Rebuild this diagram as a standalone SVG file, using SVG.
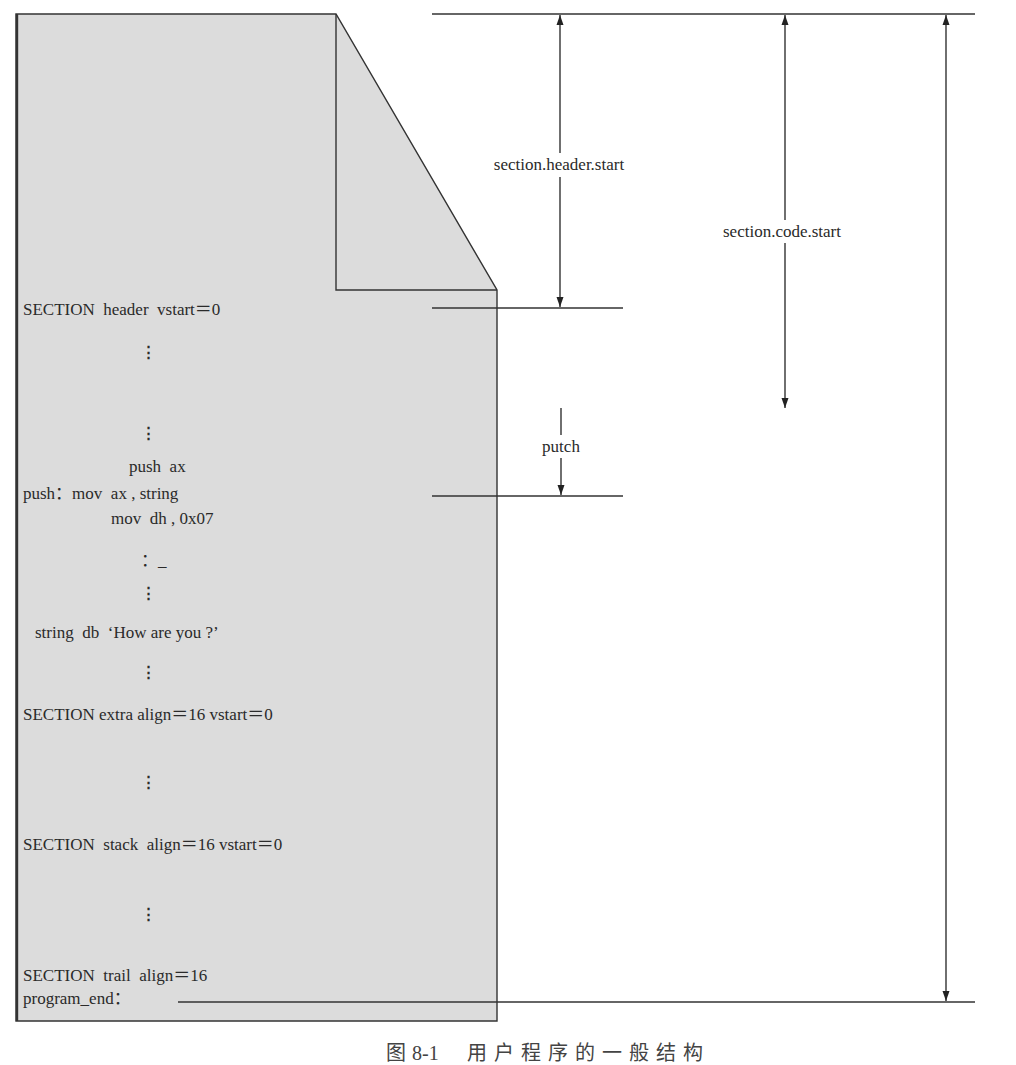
<svg xmlns="http://www.w3.org/2000/svg" width="1016" height="1065" viewBox="0 0 1016 1065">
<style>
.t{font-family:"Liberation Serif","Noto Sans CJK SC","Times New Roman",serif;font-size:17px;fill:#2a2a2a;white-space:pre}
.e{font-family:"DejaVu Serif",serif;font-size:15px;fill:#2a2a2a;font-weight:bold}
.l{stroke:#333;stroke-width:1.4;fill:none}
.cap{font-family:"Liberation Serif","Noto Sans CJK SC",serif;font-size:20px;fill:#444;white-space:pre}
</style>
<defs>
<marker id="ah" viewBox="0 0 10 10" refX="10" refY="5" markerWidth="10" markerHeight="10" markerUnits="userSpaceOnUse" orient="auto-start-reverse">
<path d="M0,1.5 L10,5 L0,8.5 z" fill="#222"/>
</marker>
</defs>
<rect width="1016" height="1065" fill="#fff"/>
<g id="page">
<path d="M16,14 L336,14 L497,290 L497,1021 L16,1021 Z" fill="#dcdcdc" stroke="#333" stroke-width="1.4"/>
<line x1="17" y1="14" x2="17" y2="1021" stroke="#333" stroke-width="2.4"/>
<path d="M336,14 L336,290 L497,290" class="l"/>
</g>
<g id="code-text">
<text class="t" x="23" y="315">SECTION  header  vstart＝0</text>
<text class="e" x="148" y="357" text-anchor="middle">⋮</text>
<text class="e" x="148" y="438" text-anchor="middle">⋮</text>
<text class="t" x="129" y="472">push  ax</text>
<text class="t" x="23" y="499">push：mov  ax , string</text>
<text class="t" x="111" y="524">mov  dh , 0x07</text>
<text class="t" x="141" y="566">：_</text>
<text class="e" x="148" y="598" text-anchor="middle">⋮</text>
<text class="t" x="35" y="638">string  db  ‘How are you ?’</text>
<text class="e" x="148" y="677" text-anchor="middle">⋮</text>
<text class="t" x="23" y="720">SECTION extra align＝16 vstart＝0</text>
<text class="e" x="148" y="787" text-anchor="middle">⋮</text>
<text class="t" x="23" y="850">SECTION  stack  align＝16 vstart＝0</text>
<text class="e" x="148" y="919" text-anchor="middle">⋮</text>
<text class="t" x="23" y="981">SECTION  trail  align＝16</text>
<text class="t" x="23" y="1004">program_end：</text>
</g>
<g id="connectors">
<line class="l" x1="432" y1="14" x2="975" y2="14"/>
<line class="l" x1="432" y1="308" x2="623" y2="308"/>
<line class="l" x1="432" y1="496" x2="623" y2="496"/>
<line class="l" x1="178" y1="1002" x2="975" y2="1002"/>
<line class="l" x1="560" y1="15" x2="560" y2="153" marker-start="url(#ah)"/>
<line class="l" x1="560" y1="177" x2="560" y2="307" marker-end="url(#ah)"/>
<line class="l" x1="785" y1="15" x2="785" y2="220" marker-start="url(#ah)"/>
<line class="l" x1="785" y1="243" x2="785" y2="408" marker-end="url(#ah)"/>
<line class="l" x1="946" y1="15" x2="946" y2="1001" marker-start="url(#ah)" marker-end="url(#ah)"/>
<line class="l" x1="561" y1="408" x2="561" y2="435"/>
<line class="l" x1="561" y1="458" x2="561" y2="495" marker-end="url(#ah)"/>
</g>
<g id="labels">
<text class="t" x="559" y="170" text-anchor="middle">section.header.start</text>
<text class="t" x="782" y="237" text-anchor="middle">section.code.start</text>
<text class="t" x="561" y="452" text-anchor="middle">putch</text>
</g>
<text class="cap" y="1060"><tspan x="386">图</tspan><tspan x="412">8-1</tspan><tspan x="467" letter-spacing="7">用户程序的一般结构</tspan></text>
</svg>
